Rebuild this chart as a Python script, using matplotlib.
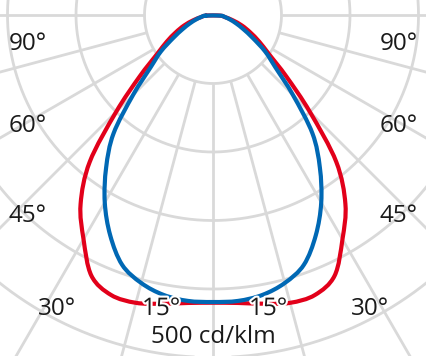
import numpy as np
import matplotlib
matplotlib.use("Agg")
import matplotlib.pyplot as plt
from matplotlib import patheffects as pe
from matplotlib.path import Path
from matplotlib.patches import PathPatch

# ---- data (cd/klm vs. angle from nadir, symmetric half-planes) ----
angles_deg = [0, 5, 10, 15, 20, 25, 30, 35, 40, 45, 50, 55, 60, 65, 70, 75, 80, 85]
red_cd     = [420, 422, 428, 435, 435, 420, 378, 337, 280, 200, 140, 100, 78, 60, 45, 30, 18, 10]
blue_cd    = [419, 419, 415, 405, 388, 355, 316, 272, 226, 165, 119, 93, 67, 49, 36, 26, 18, 11]

grid_radii = [100, 200, 300, 400, 500]
spoke_angles = [-90, -75, -60, -45, -30, -15, 0, 15, 30, 45, 60, 75, 90]
angle_labels = ["90°", "60°", "45°", "30°", "15°"]
scale_label = "500 cd/klm"

RED = "#E2001A"
BLUE = "#0068B4"
GRID = "#D9D9D9"

W, H = 427, 356
s = 0.685            # px per cd/klm
cx, cy = 213, 15     # centre in pixels (from top-left)

fig = plt.figure(figsize=(W / 100, H / 100), dpi=100)
ax = fig.add_axes([0, 0, 1, 1])
ax.set_xlim(-cx / s, (W - cx) / s)
ax.set_ylim(-(H - cy) / s, cy / s)
ax.set_aspect("equal")
ax.axis("off")

# grid circles
t = np.linspace(0, 2 * np.pi, 721)
for r in grid_radii:
    ax.plot(r * np.cos(t), r * np.sin(t), color=GRID, lw=2.0, zorder=1,
            solid_capstyle="butt")
# spokes
for a in spoke_angles:
    th = np.deg2rad(a)
    r0, r1 = grid_radii[0], 700
    ax.plot([r0 * np.sin(th), r1 * np.sin(th)], [-r0 * np.cos(th), -r1 * np.cos(th)],
            color=GRID, lw=2.0, zorder=1, solid_capstyle="butt")


def curve_points(values):
    a = np.array(angles_deg, dtype=float)
    v = np.array(values, dtype=float)
    full_a = np.concatenate([-a[::-1], a[1:]])
    full_v = np.concatenate([v[::-1], v[1:]])
    th = np.deg2rad(full_a)
    return np.column_stack([full_v * np.sin(th), -full_v * np.cos(th)])


def smooth_closed_path(P):
    """Closed Catmull-Rom curve rendered as cubic Bezier segments through the data points."""
    n = len(P)
    verts = [P[0]]
    codes = [Path.MOVETO]
    for i in range(n):
        p0, p1 = P[(i - 1) % n], P[i]
        p2, p3 = P[(i + 1) % n], P[(i + 2) % n]
        c1 = p1 + (p2 - p0) / 6.0
        c2 = p2 - (p3 - p1) / 6.0
        verts += [c1, c2, p2]
        codes += [Path.CURVE4] * 3
    return Path(np.array(verts), codes)


for vals, col, z in [(red_cd, RED, 3), (blue_cd, BLUE, 4)]:
    patch = PathPatch(smooth_closed_path(curve_points(vals)), facecolor="none",
                      edgecolor=col, lw=3.0, zorder=z, joinstyle="round", capstyle="round")
    ax.add_patch(patch)

font = dict(family=["Open Sans", "DejaVu Sans"], fontsize=17.5, color="#1a1a1a")
halo = [pe.withStroke(linewidth=3, foreground="white")]


def ptext(px, py, txt, effects=None):
    ax.text(px / W, 1 - py / H, txt, transform=fig.transFigure, ha="center", va="center",
            zorder=6, path_effects=effects, **font)


label_pos_left = [(28, 44), (28, 126), (28, 216), (57, 309), (161, 309)]
label_pos_right = [(399, 44), (399, 126), (399, 216), (370, 309), (268, 309)]
for txt, (lx, ly), (rx, ry) in zip(angle_labels, label_pos_left, label_pos_right):
    eff = halo if txt == "15°" else None
    ptext(lx, ly, txt, eff)
    ptext(rx, ry, txt, eff)

ptext(213, 337, scale_label)

fig.savefig("out.png", dpi=100)
